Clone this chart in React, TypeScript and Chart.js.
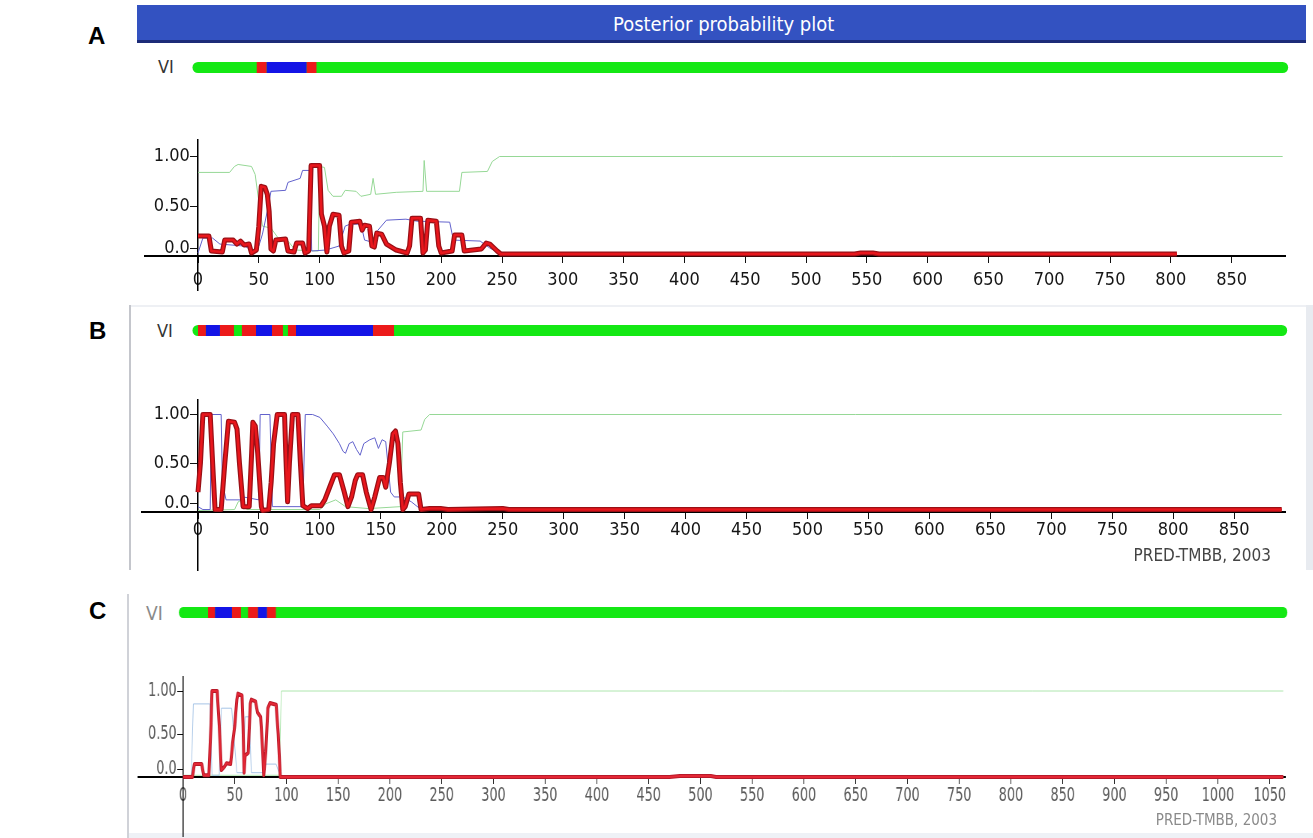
import React, { useEffect, useRef } from "react";
import { Chart, registerables } from "chart.js";

Chart.register(...registerables);

const COND = '"DejaVu Sans Condensed", "DejaVu Sans", sans-serif';

// ---------------- tick labels ----------------
const X_TICKS_AB = [0, 50, 100, 150, 200, 250, 300, 350, 400, 450, 500, 550, 600, 650, 700, 750, 800, 850];
const X_TICKS_C = [0, 50, 100, 150, 200, 250, 300, 350, 400, 450, 500, 550, 600, 650, 700, 750, 800, 850, 900, 950, 1000, 1050];
const Y_TICK_VALUES = [0, 0.5, 1];
const Y_TICK_LABELS = ["0.0", "0.50", "1.00"];

type Pt = [number, number];

// ---------------- panel A ----------------
const A_SEQ_LENGTH = 892;
const A_TOPO_BREAKS = [0, 48.3, 56.5, 89.4, 97.6, 892];
const A_TOPO_STATES = ["g", "r", "b", "r", "g"];
const A_STRAND: Pt[] = [
  [0, 0.2], [9, 0.2], [11, 0.05], [20, 0.04], [22, 0.16], [29, 0.16], [32, 0.12], [35, 0.15], [38, 0.11], [42, 0.12],
  [44, 0.03], [48, 0.06], [50, 0.3], [52, 0.7], [55, 0.69], [57, 0.62], [58.5, 0.45], [60, 0.07], [62, 0.05], [64, 0.16],
  [72, 0.17], [74, 0.05], [79, 0.04], [81, 0.13], [86, 0.13], [88, 0.03], [91, 0.05], [93, 0.91], [100, 0.91], [101.5, 0.42],
  [104, 0.3], [106, 0.04], [108, 0.3], [111, 0.42], [116, 0.41], [118, 0.1], [120, 0.03], [124, 0.05], [126, 0.34], [133, 0.35],
  [135, 0.26], [137, 0.31], [141, 0.3], [143, 0.1], [145, 0.09], [147, 0.23], [151, 0.22], [155, 0.12], [163, 0.06], [172, 0.03],
  [174, 0.1], [176, 0.38], [183, 0.38], [185, 0.03], [187, 0.06], [189, 0.36], [196, 0.35], [198, 0.1], [200, 0.03], [209, 0.05],
  [211, 0.21], [217, 0.21], [219, 0.05], [226, 0.06], [233, 0.07], [237, 0.13], [240, 0.12], [246, 0.05], [249, 0.02], [540, 0.02],
  [545, 0.03], [555, 0.03], [560, 0.02], [805, 0.02],
];
const A_INNER: Pt[] = [
  [0, 0.03], [4, 0.18], [12, 0.18], [18, 0.12], [38, 0.1], [46, 0.05], [50, 0.1], [53, 0.22], [57, 0.45], [60, 0.65],
  [72, 0.66], [74, 0.74], [84, 0.78], [86, 0.86], [92, 0.86], [93.5, 0.05], [105, 0.06], [116, 0.1], [121, 0.3], [125, 0.32],
  [134, 0.32], [137, 0.16], [143, 0.14], [148, 0.26], [155, 0.36], [171, 0.37], [180, 0.35], [207, 0.34], [210, 0.16], [232, 0.15],
  [240, 0.08], [249, 0.02], [800, 0.02],
];
const A_OUTER: Pt[] = [
  [0, 0.84], [26, 0.84], [30, 0.9], [33, 0.92], [44, 0.9], [47, 0.82], [50, 0.55], [53, 0.3], [60, 0.28], [66, 0.18],
  [74, 0.15], [80, 0.06], [99, 0.05], [100, 0.9], [104, 0.89], [107, 0.66], [111, 0.6], [118, 0.6], [121, 0.66], [130, 0.65],
  [134, 0.6], [142, 0.62], [144, 0.78], [146, 0.62], [163, 0.64], [185, 0.65], [186, 0.96], [188, 0.65], [215, 0.65], [217, 0.84],
  [238, 0.85], [242, 0.95], [248, 1.0], [892, 1.0],
];

// ---------------- panel B ----------------
const B_SEQ_LENGTH = 889;
const B_TOPO_BREAKS = [0, 6.5, 18, 29.5, 36, 47.6, 60.7, 69.7, 73.8, 80.4, 143.6, 160.8, 889];
const B_TOPO_STATES = ["r", "b", "r", "g", "r", "b", "r", "g", "r", "b", "r", "g"];
const B_STRAND: Pt[] = [
  [0, 0.2], [2, 0.5], [4, 1.0], [10, 1.0], [12, 0.5], [14, 0.02], [19, 0.02], [22, 0.5], [25, 0.93], [30, 0.92],
  [32, 0.85], [34, 0.5], [37, 0.05], [42, 0.05], [44, 0.6], [45, 0.92], [47, 0.88], [49, 0.6], [52, 0.05], [53, 0.01],
  [58, 0.02], [60, 0.3], [62, 0.7], [65, 1.0], [71, 1.0], [72, 0.6], [73.5, 0.1], [75, 0.5], [77.5, 1.0], [82, 1.0],
  [84, 0.5], [86, 0.06], [90, 0.03], [93, 0.06], [101, 0.06], [104, 0.12], [108, 0.25], [112, 0.38], [116, 0.38], [120, 0.2],
  [123, 0.05], [126, 0.15], [129, 0.32], [131, 0.38], [135, 0.38], [138, 0.2], [142, 0.02], [145, 0.15], [149, 0.35], [152, 0.35],
  [154, 0.25], [157, 0.5], [160, 0.8], [162, 0.83], [164, 0.7], [166, 0.3], [168, 0.02], [170, 0.05], [173, 0.18], [181, 0.18],
  [183, 0.02], [190, 0.03], [199, 0.03], [205, 0.02], [250, 0.03], [255, 0.02], [889, 0.02],
];
const B_INNER: Pt[] = [
  [0, 0.05], [4, 0.02], [10, 0.02], [11, 1.0], [19, 1.0], [20, 0.3], [23, 0.12], [36, 0.12], [37, 0.15], [50, 0.12],
  [51, 1.0], [59, 1.0], [61, 0.05], [86, 0.05], [88, 1.0], [94, 1.0], [100, 0.97], [106, 0.88], [111, 0.8], [116, 0.7],
  [119, 0.62], [121, 0.6], [124, 0.7], [127, 0.72], [130, 0.64], [133, 0.58], [136, 0.7], [141, 0.74], [145, 0.76], [148, 0.65],
  [151, 0.74], [154, 0.72], [158, 0.2], [161, 0.15], [168, 0.15], [175, 0.1], [183, 0.02], [889, 0.02],
];
const B_OUTER: Pt[] = [
  [0, 0.01], [30, 0.02], [33, 0.1], [36, 0.12], [40, 0.02], [100, 0.02], [105, 0.08], [113, 0.12], [121, 0.05], [140, 0.03],
  [166, 0.05], [168, 0.82], [183, 0.84], [186, 0.95], [190, 1.0], [889, 1.0],
];

// ---------------- panel C ----------------
const C_SEQ_LENGTH = 1063;
const C_TOPO_BREAKS = [0, 24.2, 30.9, 47.3, 56, 62.8, 72.5, 81.2, 89.9, 1063];
const C_TOPO_STATES = ["g", "r", "b", "r", "g", "r", "b", "r", "g"];
const C_STRAND: Pt[] = [
  [0, 0.0], [9, 0.0], [11, 0.15], [18, 0.15], [20, 0.02], [25, 0.02], [27, 0.6], [28, 1.0], [33, 1.0], [35, 0.6],
  [37, 0.08], [40, 0.12], [42, 0.16], [46, 0.15], [48, 0.4], [50, 0.6], [52, 0.9], [53, 0.97], [57, 0.95], [58, 0.6],
  [59, 0.05], [60, 0.25], [63, 0.28], [65, 0.85], [66, 0.9], [70, 0.88], [72, 0.75], [75, 0.7], [77, 0.3], [78, 0.02],
  [80, 0.3], [82, 0.8], [84, 0.86], [90, 0.84], [92, 0.5], [94, 0.0], [470, 0.0], [480, 0.012], [510, 0.012], [515, 0.0],
  [1063, 0.0],
];
const C_INNER: Pt[] = [
  [0, 0.0], [8, 0.02], [10, 0.85], [26, 0.85], [28, 0.02], [35, 0.02], [37, 0.8], [47, 0.8], [52, 0.05], [58, 0.05],
  [60, 0.7], [64, 0.7], [66, 0.05], [78, 0.05], [80, 0.15], [90, 0.15], [94, 0.0], [1063, 0.0],
];
const C_OUTER: Pt[] = [[0, 0.02], [93, 0.02], [95, 1.0], [1063, 1.0]];

const TOPO_COLORS: Record<string, string> = { g: "#14e814", r: "#ec1a1a", b: "#1414e6" };

interface PanelSpec {
  canvasLeft: number; canvasTop: number;
  areaLeft: number; areaRight: number; areaTop: number; areaBottom: number;
  zeroX: number; unitX: number; zeroY: number; unitY: number;
  topoY: number; squeeze: number;
  xTicks: number[]; seqLength: number; topoBreaks: number[]; topoStates: string[];
  strand: Pt[]; inner: Pt[]; outer: Pt[];
  tickSize: number; tickColor: string; xPad: number;
  red: string; redEdge: string; redW: number; blue: string; green: string;
}

const PAD_R = 20;
const PAD_B = 22;
const ZERO_LABEL_LIFT = 8;

const toXY = (pts: Pt[]) => pts.map(([x, y]) => ({ x, y }));

function PanelChart({ spec }: { spec: PanelSpec }) {
  const ref = useRef<HTMLCanvasElement>(null);
  const k = spec.squeeze;
  const innerRight = (spec.areaRight - spec.canvasLeft) / k;
  const W = Math.ceil(innerRight + PAD_R);
  const H = spec.areaBottom - spec.canvasTop + PAD_B;

  useEffect(() => {
    const padding = {
      left: (spec.areaLeft - spec.canvasLeft) / k,
      right: W - innerRight,
      top: spec.areaTop - spec.canvasTop,
      bottom: PAD_B,
    };
    const xMin = -(spec.zeroX - spec.areaLeft) / spec.unitX;
    const xMax = (spec.areaRight - spec.zeroX) / spec.unitX;
    const yMax = (spec.zeroY - spec.areaTop) / spec.unitY;
    const yMin = -(spec.areaBottom - spec.zeroY) / spec.unitY;
    const topoVal = (spec.zeroY - spec.topoY) / spec.unitY;
    const lift = ZERO_LABEL_LIFT / spec.unitY;
    const font = { family: COND, size: spec.tickSize };

    const chart = new Chart(ref.current!, {
      type: "line",
      data: {
        datasets: [
          { data: toXY(spec.strand), borderColor: spec.red, borderWidth: spec.redW * 0.5, pointRadius: 0, tension: 0, borderJoinStyle: "round" },
          { data: toXY(spec.strand), borderColor: spec.redEdge, borderWidth: spec.redW, pointRadius: 0, tension: 0, borderJoinStyle: "round" },
          { data: toXY(spec.inner), borderColor: spec.blue, borderWidth: 1, pointRadius: 0, tension: 0 },
          { data: toXY(spec.outer), borderColor: spec.green, borderWidth: 1, pointRadius: 0, tension: 0 },
          {
            data: spec.topoBreaks.map((b) => ({ x: b, y: topoVal })),
            borderColor: TOPO_COLORS.g,
            borderWidth: 11,
            borderCapStyle: "butt",
            pointRadius: 0,
            tension: 0,
            clip: false as any,
            segment: { borderColor: (c: any) => TOPO_COLORS[spec.topoStates[c.p0DataIndex]] },
          } as any,
          {
            data: [{ x: 0, y: topoVal }, { x: spec.seqLength, y: topoVal }],
            borderColor: TOPO_COLORS.g,
            borderWidth: 11,
            borderCapStyle: "round",
            pointRadius: 0,
            clip: false as any,
          } as any,
        ],
      },
      options: {
        animation: false,
        responsive: false,
        maintainAspectRatio: false,
        devicePixelRatio: 1,
        events: [],
        layout: { padding },
        plugins: { legend: { display: false }, tooltip: { enabled: false }, title: { display: false } },
        scales: {
          x: {
            type: "linear",
            min: xMin,
            max: xMax,
            bounds: "data",
            position: { y: 0 } as any,
            afterBuildTicks: (s: any) => { s.ticks = spec.xTicks.map((v) => ({ value: v })); },
            ticks: { autoSkip: false, maxRotation: 0, padding: spec.xPad, color: spec.tickColor, font, callback: (v: any) => String(v) },
            grid: { drawOnChartArea: false, drawTicks: true, tickLength: 6, color: "#111", lineWidth: 1 },
            border: { display: true, color: "#000", width: 2 },
          },
          y: {
            type: "linear",
            min: yMin,
            max: yMax,
            bounds: "data",
            position: { x: 0 } as any,
            afterBuildTicks: (s: any) => { s.ticks = Y_TICK_VALUES.map((v) => ({ value: v === 0 ? lift : v })); },
            ticks: { autoSkip: false, padding: 1, color: spec.tickColor, font, callback: (_v: any, i: number) => Y_TICK_LABELS[i] + "\u2002" },
            grid: { drawOnChartArea: false, drawTicks: true, tickLength: 7, color: "#111", lineWidth: 1 },
            border: { display: true, color: "#000", width: 1.5 },
          },
        },
      } as any,
    });
    return () => chart.destroy();
  }, []);

  return (
    <canvas
      ref={ref}
      width={W}
      height={H}
      style={{
        position: "absolute",
        left: spec.canvasLeft,
        top: spec.canvasTop,
        width: W,
        height: H,
        transform: `scaleX(${k})`,
        transformOrigin: "0 0",
      }}
    />
  );
}

const SPEC_A: PanelSpec = {
  canvasLeft: 130, canvasTop: 42, areaLeft: 145, areaRight: 1285, areaTop: 140, areaBottom: 290,
  zeroX: 198, unitX: 1.216, zeroY: 256, unitY: 99.5, topoY: 67.5, squeeze: 1,
  xTicks: X_TICKS_AB, seqLength: A_SEQ_LENGTH, topoBreaks: A_TOPO_BREAKS, topoStates: A_TOPO_STATES,
  strand: A_STRAND, inner: A_INNER, outer: A_OUTER,
  tickSize: 18, tickColor: "#151515", xPad: 8,
  red: "#e8161c", redEdge: "#9a1016", redW: 5, blue: "#6262cc", green: "#96d896",
};
const SPEC_B: PanelSpec = {
  canvasLeft: 132, canvasTop: 305, areaLeft: 142, areaRight: 1285, areaTop: 400, areaBottom: 570,
  zeroX: 198, unitX: 1.219, zeroY: 511.5, unitY: 97, topoY: 330.5, squeeze: 1,
  xTicks: X_TICKS_AB, seqLength: B_SEQ_LENGTH, topoBreaks: B_TOPO_BREAKS, topoStates: B_TOPO_STATES,
  strand: B_STRAND, inner: B_INNER, outer: B_OUTER,
  tickSize: 18, tickColor: "#151515", xPad: 2,
  red: "#e8161c", redEdge: "#9a1016", redW: 5, blue: "#6262cc", green: "#96d896",
};
const SPEC_C: PanelSpec = {
  canvasLeft: 130, canvasTop: 590, areaLeft: 138, areaRight: 1285, areaTop: 677, areaBottom: 836,
  zeroX: 183, unitX: 1.035, zeroY: 777, unitY: 86, topoY: 612.5, squeeze: 0.75,
  xTicks: X_TICKS_C, seqLength: C_SEQ_LENGTH, topoBreaks: C_TOPO_BREAKS, topoStates: C_TOPO_STATES,
  strand: C_STRAND, inner: C_INNER, outer: C_OUTER,
  tickSize: 19, tickColor: "#5a5a5a", xPad: 2,
  red: "#e42836", redEdge: "#b81a2a", redW: 4, blue: "#a6c4e6", green: "#aee6ae",
};

function Txt(props: { left?: number; right?: number; y: number; size: number; color: string; family?: string; weight?: number; children: React.ReactNode }) {
  return (
    <div
      style={{
        position: "absolute",
        left: props.left,
        right: props.right,
        top: props.y,
        transform: "translateY(-50%)",
        fontFamily: props.family || COND,
        fontSize: props.size,
        fontWeight: props.weight || 400,
        color: props.color,
        lineHeight: 1,
        whiteSpace: "nowrap",
      }}
    >
      {props.children}
    </div>
  );
}

export default function App() {
  const ARIAL = '"Liberation Sans", Arial, sans-serif';
  return (
    <div style={{ position: "absolute", left: 0, top: 0, width: 1313, height: 838, overflow: "hidden", background: "#ffffff" }}>
      {/* panel A frame */}
      <div style={{ position: "absolute", left: 137, top: 5, width: 1169, height: 35, background: "#3352c1", borderBottom: "3px solid #1c2b78" }} />
      <Txt left={613} y={24} size={20} color="#ffffff">Posterior probability plot</Txt>
      {/* panel B frame */}
      <div style={{ position: "absolute", left: 129, top: 305, width: 2, height: 265, background: "#c4c6cc" }} />
      <div style={{ position: "absolute", left: 131, top: 305, width: 1175, height: 2, background: "#eef0f4" }} />
      <div style={{ position: "absolute", left: 1306, top: 305, width: 7, height: 265, background: "#e8ebf0" }} />
      {/* panel C frame */}
      <div style={{ position: "absolute", left: 127, top: 594, width: 2, height: 244, background: "#d0d2d8" }} />
      <div style={{ position: "absolute", left: 129, top: 833, width: 1184, height: 5, background: "#eef1f6" }} />

      {/* letters */}
      <div style={{ position: "absolute", left: 88, top: 24, fontFamily: ARIAL, fontWeight: 700, fontSize: 24, lineHeight: "24px", color: "#000" }}>A</div>
      <div style={{ position: "absolute", left: 89, top: 319, fontFamily: ARIAL, fontWeight: 700, fontSize: 24, lineHeight: "24px", color: "#000" }}>B</div>
      <div style={{ position: "absolute", left: 89, top: 599, fontFamily: ARIAL, fontWeight: 700, fontSize: 24, lineHeight: "24px", color: "#000" }}>C</div>

      {/* VI labels */}
      <Txt left={158} y={67} size={18} color="#333">VI</Txt>
      <Txt left={157} y={331} size={18} color="#333">VI</Txt>
      <Txt left={146} y={613} size={19} color="#8a8a8a">VI</Txt>

      <PanelChart spec={SPEC_A} />
      <PanelChart spec={SPEC_B} />
      <PanelChart spec={SPEC_C} />

      <Txt right={42} y={555} size={17} color="#444">PRED-TMBB, 2003</Txt>
      <Txt right={36} y={820} size={15} color="#8a8a8a">PRED-TMBB, 2003</Txt>
    </div>
  );
}
